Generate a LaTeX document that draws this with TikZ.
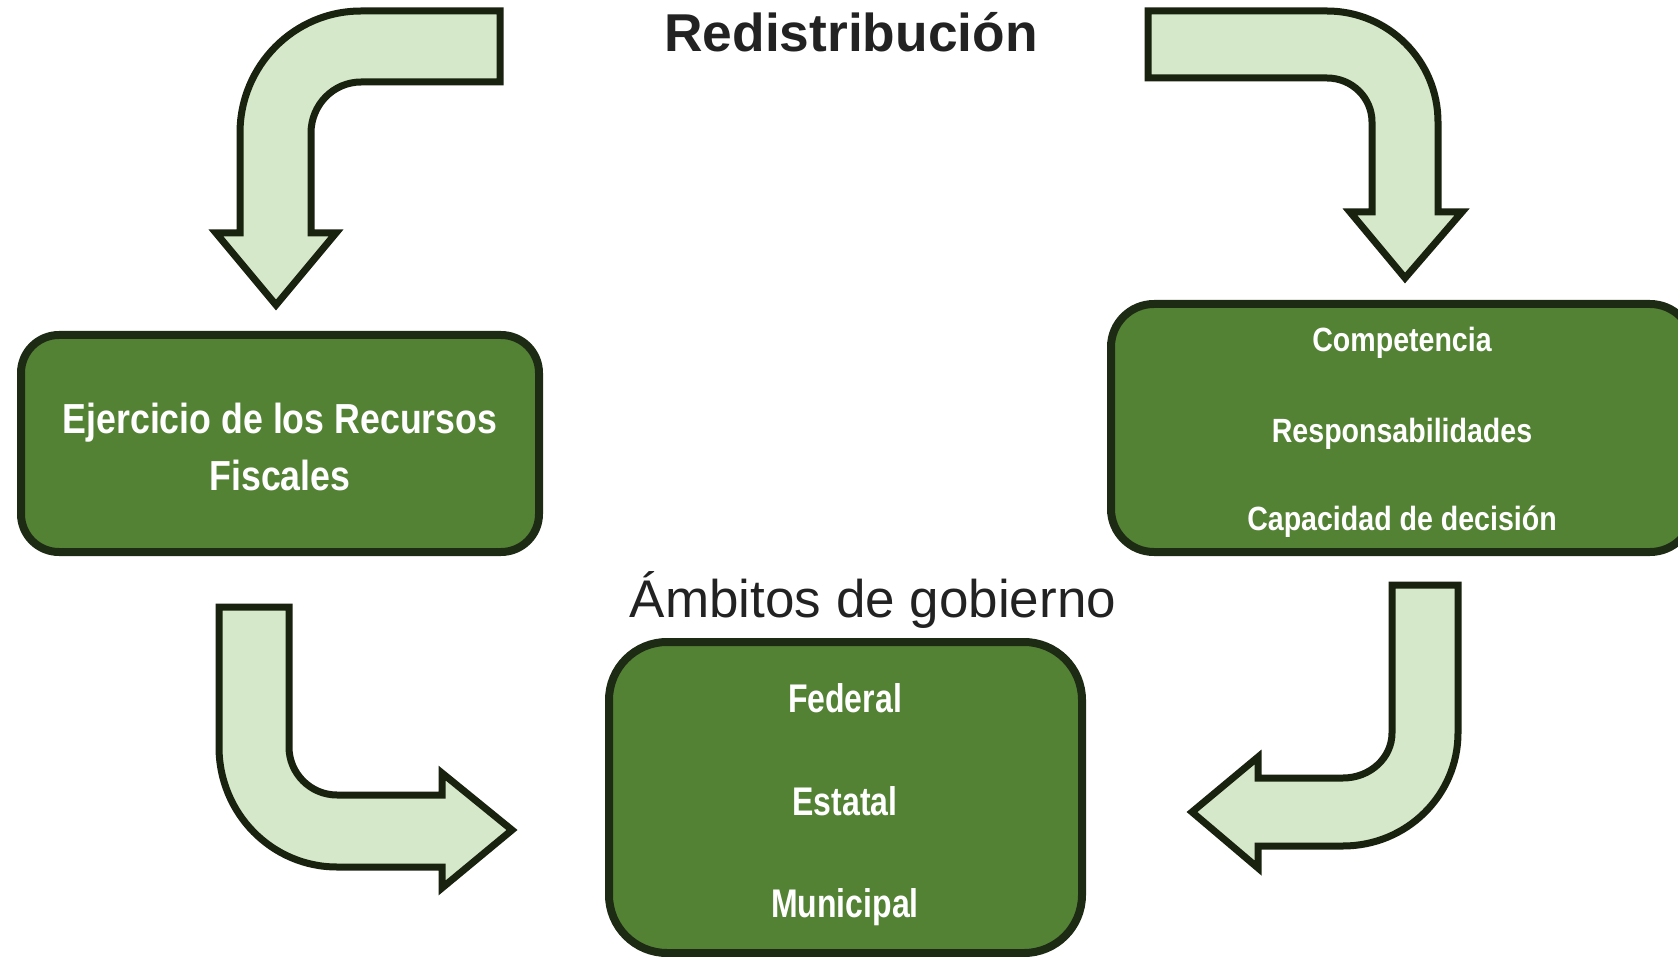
\documentclass[tikz,border=0pt]{standalone}
\usepackage{fontspec}
\setmainfont{Liberation Sans}
\newfontfamily\boxfontA[FakeStretch=0.85]{Liberation Sans}
\newfontfamily\boxfontB[FakeStretch=0.80]{Liberation Sans}
\definecolor{arrowfill}{HTML}{D5E8C9}
\definecolor{arrowline}{HTML}{19220F}
\definecolor{boxfill}{HTML}{548235}
\definecolor{boxline}{HTML}{1E2B14}
\definecolor{titletext}{HTML}{222222}
\begin{document}
\begin{tikzpicture}[x=1pt,y=-1pt,
  bigarrow/.style={fill=arrowfill, draw=arrowline, line width=7pt, line join=miter, miter limit=10},
  greenbox/.style={draw=boxline, fill=boxfill, line width=8pt, inner sep=0pt, rectangle},
  boxtextA/.style={anchor=base, inner sep=0pt, text=white, font=\boxfontA\bfseries},
  boxtextB/.style={anchor=base, inner sep=0pt, text=white, font=\boxfontB\bfseries\fontsize{40}{46}\selectfont},
  titlestyle/.style={anchor=base, inner sep=0pt, text=titletext},
]
\useasboundingbox (0,0) rectangle (1678,957);
\clip (0,0) rectangle (1678,957);

% boxes
\node[greenbox, minimum width=518pt, minimum height=217pt, rounded corners=38pt] (fiscal) at (280,443.5) {};
\node[greenbox, minimum width=582pt, minimum height=248pt, rounded corners=43pt] (compet) at (1402,428) {};
\node[greenbox, minimum width=473pt, minimum height=311pt, rounded corners=58pt] (ambitos) at (845.5,797.5) {};

% titles
\node[titlestyle, font=\bfseries\fontsize{53.3}{60}\selectfont] (redis) at (851,52) {Redistribución};
\node[titlestyle, font=\fontsize{53}{60}\selectfont] (ambtitle) at (873,617) {Ámbitos de gobierno};

% box texts
\node[boxtextA, font=\boxfontA\bfseries\fontsize{42}{50}\selectfont] (ej1) at (280,433) {Ejercicio de los Recursos};
\node[boxtextA, font=\boxfontA\bfseries\fontsize{42}{50}\selectfont] (ej2) at (280,490) {Fiscales};

\node[boxtextA, font=\boxfontA\bfseries\fontsize{33.6}{40}\selectfont] (c1) at (1402,352) {Competencia};
\node[boxtextA, font=\boxfontA\bfseries\fontsize{33.6}{40}\selectfont] (c2) at (1402,442) {Responsabilidades};
\node[boxtextA, font=\boxfontA\bfseries\fontsize{33.6}{40}\selectfont] (c3) at (1402,530) {Capacidad de decisión};

\node[boxtextB] (a1) at (845,712) {Federal};
\node[boxtextB] (a2) at (845,815) {Estatal};
\node[boxtextB] (a3) at (845,917) {Municipal};

% bent block arrows
% top-left: from title towards left box
\draw[bigarrow] (500,11) -- (361,11)
  .. controls (294.2,11) and (240,65.6) .. (240,133)
  -- (240,233) -- (216,233) -- (276,305) -- (336,233) -- (311,233) -- (311,133)
  .. controls (311,104.8) and (333.4,82) .. (361,82)
  -- (500,82) -- cycle;

% top-right: from title towards right box
\draw[bigarrow] (1148,11) -- (1327,11)
  .. controls (1388.3,11) and (1438,60.7) .. (1438,122)
  -- (1438,212) -- (1462,212) -- (1405,278) -- (1350,212) -- (1372,212) -- (1372,122)
  .. controls (1372,97.7) and (1351.9,78) .. (1327,78)
  -- (1148,78) -- cycle;

% bottom-left: from left box towards bottom box
\draw[bigarrow] (219,607) -- (289,607) -- (289,747)
  .. controls (289,773.5) and (310.5,795) .. (337,795)
  -- (442,795) -- (442,773) -- (512,830) -- (442,888) -- (442,867) -- (337,867)
  .. controls (271.8,867) and (219,813.3) .. (219,747)
  -- cycle;

% bottom-right: from right box towards bottom box
\draw[bigarrow] (1392,585) -- (1458,585) -- (1458,733)
  .. controls (1458,795.4) and (1406.5,846) .. (1343,846)
  -- (1258,846) -- (1258,868) -- (1192,812) -- (1258,757) -- (1258,778) -- (1343,778)
  .. controls (1370,778) and (1392,757.9) .. (1392,733)
  -- cycle;
\end{tikzpicture}
\end{document}
